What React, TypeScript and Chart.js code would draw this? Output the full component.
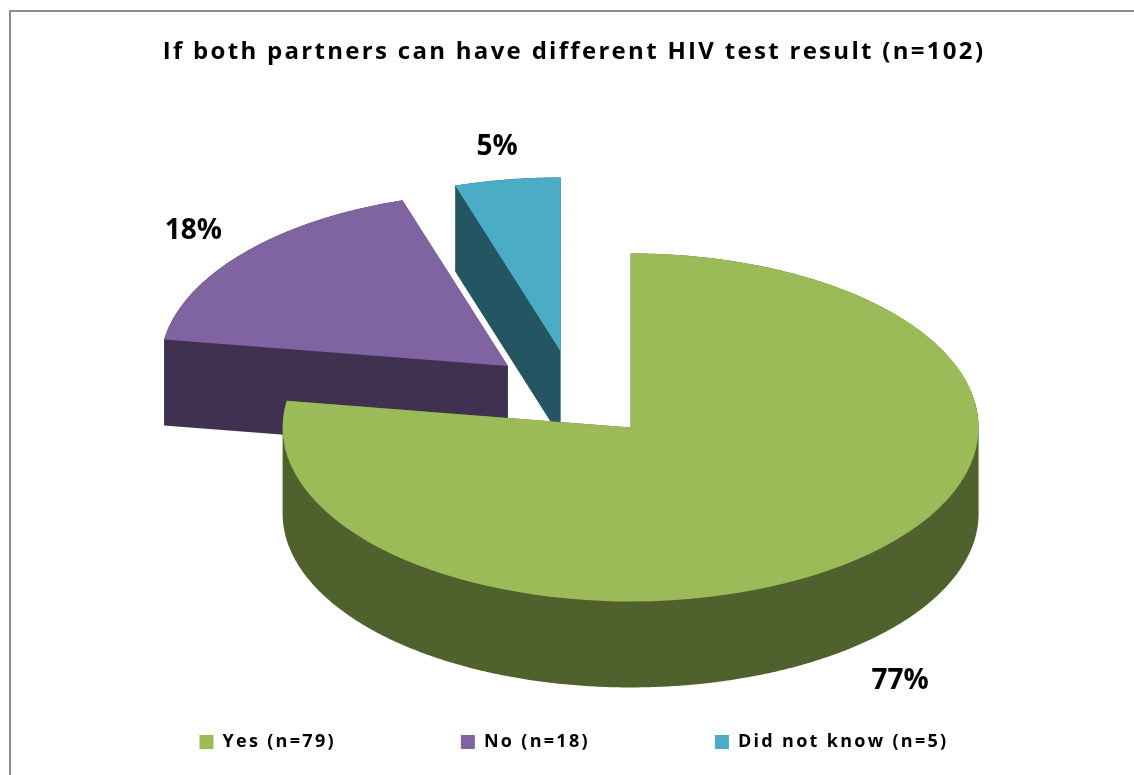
import React, { useEffect, useRef } from 'react';
import { Chart, registerables } from 'chart.js';

Chart.register(...registerables);

const titleText = 'If both partners can have different HIV test result (n=102)';
const categories = ['Yes (n=79)', 'No (n=18)', 'Did not know (n=5)'];
const counts = [79, 18, 5];
const topColors = ['#9BBB59', '#8064A2', '#4BACC6'];
const sideColors = ['#4F612D', '#403151', '#245563'];

const FLAT = 0.5;
const DEPTH = 86;
const EXPLODE = 87;
const PIE_RADIUS = 348;
const FONT = '"Open Sans", "DejaVu Sans", sans-serif';
const TEXT_SPACING = '2.3px';

type Pt = [number, number];

function addOriented(ctx: CanvasRenderingContext2D, pts: Pt[]) {
  let area = 0;
  for (let i = 0; i < pts.length; i++) {
    const [x1, y1] = pts[i];
    const [x2, y2] = pts[(i + 1) % pts.length];
    area += x1 * y2 - x2 * y1;
  }
  const list = area >= 0 ? pts : pts.slice().reverse();
  ctx.moveTo(list[0][0], list[0][1]);
  for (let i = 1; i < list.length; i++) ctx.lineTo(list[i][0], list[i][1]);
  ctx.closePath();
}

const pie3d = {
  id: 'pie3d',
  beforeUpdate(chart: any) {
    (chart.ctx as any).letterSpacing = TEXT_SPACING;
  },
  beforeDatasetsDraw(chart: any) {
    const meta = chart.getDatasetMeta(0);
    const arcs = meta.data;
    if (!arcs.length) return false;
    const ctx = chart.ctx as CanvasRenderingContext2D;
    const cx = arcs[0].x;
    const cy = arcs[0].y;
    const H = DEPTH / FLAT;
    ctx.save();
    ctx.translate(cx, cy);
    ctx.scale(1, FLAT);
    ctx.translate(-cx, -cy);
    const items = arcs
      .map((el: any, i: number) => {
        const h = (el.startAngle + el.endAngle) / 2;
        return { el, i, dx: Math.cos(h) * EXPLODE, dy: Math.sin(h) * EXPLODE };
      })
      .sort((a: any, b: any) => a.dy - b.dy);
    items.forEach(({ el, i, dx, dy }: any) => {
      const ox = el.x + dx;
      const oy = el.y + dy;
      const R = el.outerRadius;
      const a0 = el.startAngle;
      const a1 = el.endAngle;
      const n = Math.max(4, Math.ceil(((a1 - a0) * 180) / Math.PI / 0.5));
      const outline: Pt[] = [[ox, oy]];
      for (let s = 0; s <= n; s++) {
        const t = a0 + ((a1 - a0) * s) / n;
        outline.push([ox + Math.cos(t) * R, oy + Math.sin(t) * R]);
      }
      ctx.beginPath();
      addOriented(ctx, outline);
      addOriented(ctx, outline.map(([x, y]) => [x, y + H] as Pt));
      for (let s = 0; s < outline.length; s++) {
        const p = outline[s];
        const q = outline[(s + 1) % outline.length];
        if (Math.abs(q[0] - p[0]) < 1e-6) continue;
        addOriented(ctx, [p, q, [q[0], q[1] + H], [p[0], p[1] + H]]);
      }
      ctx.fillStyle = sideColors[i];
      ctx.fill('nonzero');
    });
    items.forEach(({ el, dx, dy }: any) => {
      ctx.save();
      ctx.translate(dx, dy);
      el.draw(ctx);
      ctx.restore();
    });
    ctx.restore();
    return false;
  },
  afterDraw(chart: any) {
    const meta = chart.getDatasetMeta(0);
    const arcs = meta.data;
    const ctx = chart.ctx as CanvasRenderingContext2D;
    const total = counts.reduce((a, b) => a + b, 0);
    ctx.save();
    (ctx as any).letterSpacing = '0px';
    ctx.font = 'bold 28px ' + FONT;
    ctx.fillStyle = '#000';
    ctx.textAlign = 'center';
    ctx.textBaseline = 'middle';
    arcs.forEach((el: any, i: number) => {
      const h = (el.startAngle + el.endAngle) / 2;
      const dist = EXPLODE + el.outerRadius * 1.19;
      const lx = el.x + Math.cos(h) * dist;
      const ly = el.y + Math.sin(h) * dist * FLAT + (Math.sin(h) > 0 ? DEPTH * 1.12 : 0);
      ctx.fillText(Math.round((counts[i] / total) * 100) + '%', lx, ly);
    });
    ctx.restore();
  },
};

export default function App() {
  const ref = useRef<HTMLCanvasElement | null>(null);
  useEffect(() => {
    if (!ref.current) return;
    const chart = new Chart(ref.current, {
      type: 'pie',
      data: {
        labels: categories,
        datasets: [
          {
            data: counts,
            backgroundColor: topColors,
            borderWidth: 0,
            radius: PIE_RADIUS,
          } as any,
        ],
      },
      options: {
        responsive: false,
        animation: false,
        devicePixelRatio: 1,
        events: [],
        layout: { padding: { left: 0, right: 74, top: 0, bottom: 0 } },
        plugins: {
          title: {
            display: true,
            text: titleText,
            color: '#000',
            font: { family: FONT, size: 24, weight: 'bold' },
            padding: { top: 26, bottom: 114 },
          },
          legend: {
            position: 'bottom',
            labels: {
              boxWidth: 14,
              boxHeight: 14,
              padding: 125,
              color: '#000',
              font: { family: FONT, size: 18, weight: 'bold' },
            },
          },
          tooltip: { enabled: false },
        },
      } as any,
      plugins: [pie3d as any],
    });
    return () => chart.destroy();
  }, []);

  return (
    <>
      <style>{'html, body { margin: 0; padding: 0; overflow: hidden; background: #fff; }'}</style>
      <div
        style={{
          position: 'absolute',
          left: 0,
          top: 0,
          width: 1134,
          height: 775,
          overflow: 'hidden',
          background: '#fff',
        }}
      >
        <div
          style={{
            position: 'absolute',
            left: 9,
            top: 10,
            width: 1300,
            height: 900,
            borderLeft: '2px solid #8d8d8d',
            borderTop: '2px solid #8d8d8d',
            background: '#fff',
          }}
        >
          <canvas ref={ref} width={1200} height={749} style={{ display: 'block' }} />
        </div>
      </div>
    </>
  );
}
